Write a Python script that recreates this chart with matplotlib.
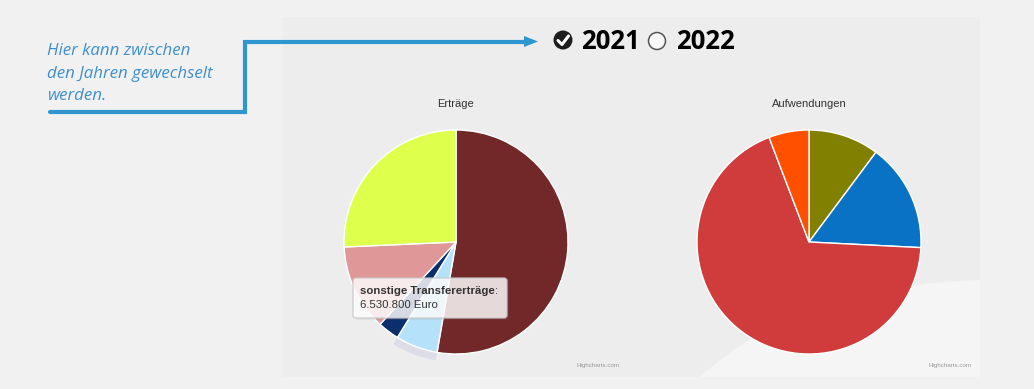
import matplotlib
matplotlib.use("Agg")
import matplotlib.pyplot as plt
from matplotlib.patches import Rectangle, Circle, Wedge, FancyBboxPatch, PathPatch, Polygon
from matplotlib.path import Path

# ---------------- data ----------------
ertraege_labels = ["Erträge A", "sonstige Transfererträge", "Erträge B", "Erträge C", "Erträge D"]
ertraege_values = [56_800_000, 6_530_800, 3_340_000, 13_400_000, 27_700_000]
ertraege_colors = ["#722828", "#b5e1fb", "#0c2e6c", "#df9797", "#deff4c"]

aufw_labels = ["Aufwendungen A", "Aufwendungen B", "Aufwendungen C", "Aufwendungen D"]
aufw_values = [10.2, 15.6, 68.4, 5.8]
aufw_colors = ["#818000", "#0a72c5", "#d03c3c", "#ff5000"]

years = ["2021", "2022"]
titles = ["Erträge", "Aufwendungen"]
hint_lines = ["Hier kann zwischen", "den Jahren gewechselt", "werden."]
tooltip_label = "sonstige Transfererträge"
tooltip_value = "6.530.800 Euro"
hover_index = 1

W, H = 1034, 389
fig = plt.figure(figsize=(W / 100, H / 100), dpi=100)
fig.patch.set_facecolor("#f1f1f1")
ax = fig.add_axes([0, 0, 1, 1])
ax.set_facecolor("#f1f1f1")


def fy(y):
    return H - y


# panel background
ax.add_patch(Rectangle((283, fy(377)), 697, 360, facecolor="#ededed", edgecolor="none", zorder=0))
# lighter swoosh bottom right
verts = [(700, fy(377)), (800, fy(285)), (980, fy(280)), (980, fy(377)), (700, fy(377))]
codes = [Path.MOVETO, Path.CURVE3, Path.CURVE3, Path.LINETO, Path.CLOSEPOLY]
ax.add_patch(PathPatch(Path(verts, codes), facecolor="#f5f5f5", edgecolor="none", zorder=0.5))

# pies
R = 112
c1 = (456, fy(242))
c2 = (809, fy(242))
w1, _ = ax.pie(ertraege_values, colors=ertraege_colors, startangle=90, counterclock=False,
               center=c1, radius=R, wedgeprops=dict(edgecolor="white", linewidth=1))
w2, _ = ax.pie(aufw_values, colors=aufw_colors, startangle=90, counterclock=False,
               center=c2, radius=R, wedgeprops=dict(edgecolor="white", linewidth=1))

ax.set_xlim(0, W)
ax.set_ylim(0, H)
ax.set_aspect("equal")
ax.axis("off")

# hover halo
hw = w1[hover_index]
ax.add_patch(Wedge(c1, R + 8, hw.theta1, hw.theta2, width=8, facecolor="#c8cbe0",
                   alpha=0.45, edgecolor="none", zorder=1))

for w in list(w1) + list(w2):
    w.set_zorder(2)

# titles
ax.text(456, fy(104), titles[0], ha="center", va="center", fontsize=8, color="#333333",
        family="Liberation Sans")
ax.text(809, fy(104), titles[1], ha="center", va="center", fontsize=8, color="#333333",
        family="Liberation Sans")

# credits
for x in (620, 972):
    ax.text(x, fy(366), "Highcharts.com", ha="right", va="center", fontsize=4.5, color="#999999",
            family="Liberation Sans")

# tooltip
ax.add_patch(FancyBboxPatch((355, fy(320)), 154, 41, boxstyle="round,pad=0,rounding_size=3",
                            facecolor="#888888", alpha=0.12, edgecolor="none", zorder=4))
ax.add_patch(FancyBboxPatch((353, fy(318)), 154, 40, boxstyle="round,pad=0,rounding_size=3",
                            facecolor="white", alpha=0.82, edgecolor="#c8c8c8", linewidth=1, zorder=5))
t = ax.text(360, fy(291), tooltip_label, ha="left", va="center", fontsize=8.2, color="#333333",
            fontweight="bold", family="Liberation Sans", zorder=6)
fig.canvas.draw()
bb = t.get_window_extent()
x_end = ax.transData.inverted().transform((bb.x1, bb.y0))[0]
ax.text(x_end, fy(291), ":", ha="left", va="center", fontsize=8.2, color="#333333",
        family="Liberation Sans", zorder=6)
ax.text(360, fy(305), tooltip_value, ha="left", va="center", fontsize=8.2, color="#333333",
        family="Liberation Sans", zorder=6)

# hint text
for i, line in enumerate(hint_lines):
    ax.text(47, fy(51 + i * 22.5), line, ha="left", va="center", fontsize=12.2, color="#3f8fcb",
            style="italic", family="Open Sans")

# arrow path
blue = "#2f96cf"
ax.plot([50, 245, 245, 526], [fy(112), fy(112), fy(41.5), fy(41.5)], color=blue, lw=3,
        solid_capstyle="round", solid_joinstyle="miter", zorder=3)
ax.add_patch(Polygon([(524, fy(36)), (538, fy(41.5)), (524, fy(47))], closed=True,
                     facecolor=blue, edgecolor="none", zorder=3))

# year selector
ax.add_patch(Circle((563, fy(40)), 9.5, facecolor="#1e1e1e", edgecolor="none", zorder=3))
ax.plot([558, 562, 568.5], [fy(40.5), fy(44.5), fy(36)], color="white", lw=2.2,
        solid_capstyle="round", solid_joinstyle="round", zorder=4)
ax.text(581, fy(41), years[0], ha="left", va="center", fontsize=18.5, fontweight="bold",
        color="black", family="Open Sans")
ax.add_patch(Circle((657, fy(41)), 8.5, facecolor="#f8f8f8", edgecolor="#555555", lw=1.1, zorder=3))
ax.text(676, fy(41), years[1], ha="left", va="center", fontsize=18.5, fontweight="bold",
        color="black", family="Open Sans")

fig.savefig("out.png", dpi=100, facecolor=fig.get_facecolor())
